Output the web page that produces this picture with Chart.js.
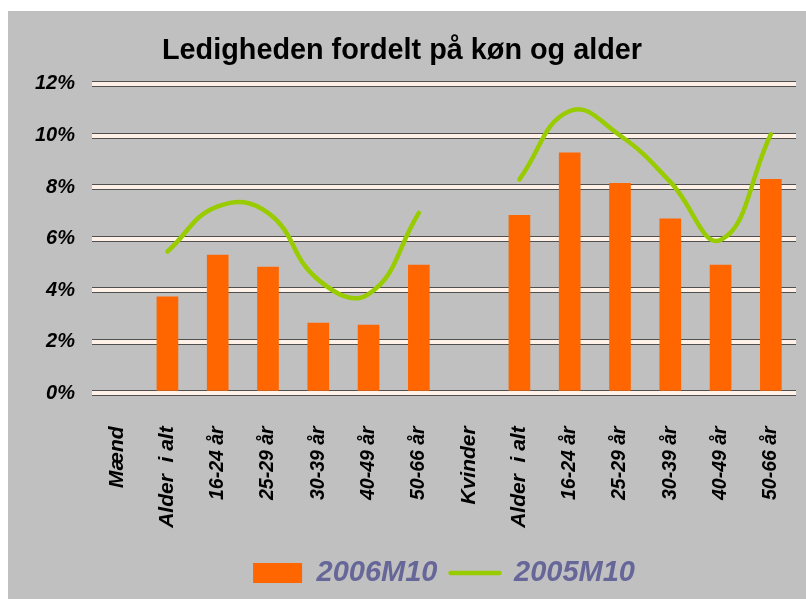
<!DOCTYPE html>
<html><head><meta charset="utf-8">
<script src="https://cdn.jsdelivr.net/npm/chart.js@4/dist/chart.umd.min.js"></script>
<style>
html,body{margin:0;padding:0;background:#fff;width:806px;height:599px;overflow:hidden}
#wrap{position:absolute;left:8px;top:11px;width:798px;height:588px;background:#C0C0C0}
canvas{display:block}
</style></head><body>
<div id="wrap"><canvas id="c" width="798" height="588"></canvas></div>
<script>
const categories = ['Mænd','Alder  i alt','16-24 år','25-29 år','30-39 år','40-49 år','50-66 år',
                    'Kvinder','Alder  i alt','16-24 år','25-29 år','30-39 år','40-49 år','50-66 år'];
const groupLabels = ['Mænd','Kvinder','Alder  i alt'];
const series2006 = [null, 3.74, 5.36, 4.90, 2.72, 2.65, 4.97, null, 6.90, 9.33, 8.15, 6.77, 4.97, 8.30];
const series2005 = [null, 5.5, 7.25, 7.0, 4.4, 3.85, 7.0, null, 8.3, 10.95, 10.0, 8.2, 5.95, 10.05];
const yTickValues = [0, 2, 4, 6, 8, 10, 12];
const seriesNames = ['2006M10', '2005M10'];
const titleText = 'Ledigheden fordelt på køn og alder';

const FAM = "'Liberation Sans', Arial, sans-serif";
const setTicks = s => { s.ticks = yTickValues.map(v => ({value: v})); };

new Chart(document.getElementById('c'), {
  type: 'bar',
  data: {
    labels: categories,
    datasets: [
      { label: seriesNames[0], data: series2006, backgroundColor: '#FF6600', borderWidth: 0,
        barThickness: 21, order: 1, yAxisID: 'y' },
      { type: 'line', label: seriesNames[1], data: series2005, borderColor: '#99CC00',
        backgroundColor: '#99CC00', borderWidth: 4.5, pointRadius: 0, tension: 0.45,
        borderCapStyle: 'round', borderJoinStyle: 'round', spanGaps: false, order: 0, yAxisID: 'y' }
    ]
  },
  options: {
    responsive: false,
    animation: false,
    devicePixelRatio: 1,
    layout: { padding: { left: 0, right: 10, top: 0, bottom: 1.5 } },
    plugins: {
      tooltip: { enabled: false },
      title: {
        display: true, text: titleText, color: '#000',
        font: { family: FAM, size: 28.8, weight: 'bold' },
        padding: { top: 23, bottom: 15.4 }
      },
      legend: {
        position: 'bottom', fullSize: false,
        labels: {
          usePointStyle: true, pointStyleWidth: 49, boxWidth: 49, boxHeight: 20, padding: 13,
          color: '#666699',
          font: { family: FAM, size: 29, weight: 'bold', style: 'italic' },
          generateLabels(chart) {
            const items = Chart.defaults.plugins.legend.labels.generateLabels(chart);
            items.sort((a, b) => a.datasetIndex - b.datasetIndex);
            items.forEach(it => {
              if (it.datasetIndex === 0) {
                it.pointStyle = 'rect'; it.lineWidth = 0; it.fillStyle = '#FF6600'; it.strokeStyle = '#FF6600';
              } else {
                it.pointStyle = 'line'; it.lineWidth = 4.5; it.strokeStyle = '#99CC00'; it.lineCap = 'round';
              }
              it.fontColor = '#666699';
            });
            return items;
          }
        }
      }
    },
    scales: {
      x: {
        grid: { display: false, drawTicks: false },
        border: { display: false },
        ticks: {
          autoSkip: false, minRotation: 90, maxRotation: 90, padding: 33, color: '#000',
          font: (ctx) => ({ family: FAM, weight: 'bold', style: 'italic',
                            size: groupLabels.includes(categories[ctx.index]) ? 21 : 19.5 })
        },
        afterFit: s => { s.height = 152.2; s.paddingLeft = 0; s.paddingRight = 0; }
      },
      y: {
        min: 0, max: 12, position: 'left',
        afterBuildTicks: setTicks,
        grid: { color: '#505050', lineWidth: 6, drawTicks: false, z: -1 },
        border: { display: false },
        ticks: { padding: 17, color: '#000', callback: v => v + '%',
                 font: { family: FAM, size: 20, weight: 'bold', style: 'italic' } },
        afterFit: s => { s.width = 84; s.paddingTop = 0; s.paddingBottom = 0; }
      },
      y2: {
        min: 0, max: 12, position: 'right',
        afterBuildTicks: setTicks,
        grid: { color: '#FFF1E8', lineWidth: 4, drawTicks: false },
        border: { display: false },
        ticks: { display: false },
        afterFit: s => { s.width = 0; }
      }
    }
  }
});
</script>
</body></html>
